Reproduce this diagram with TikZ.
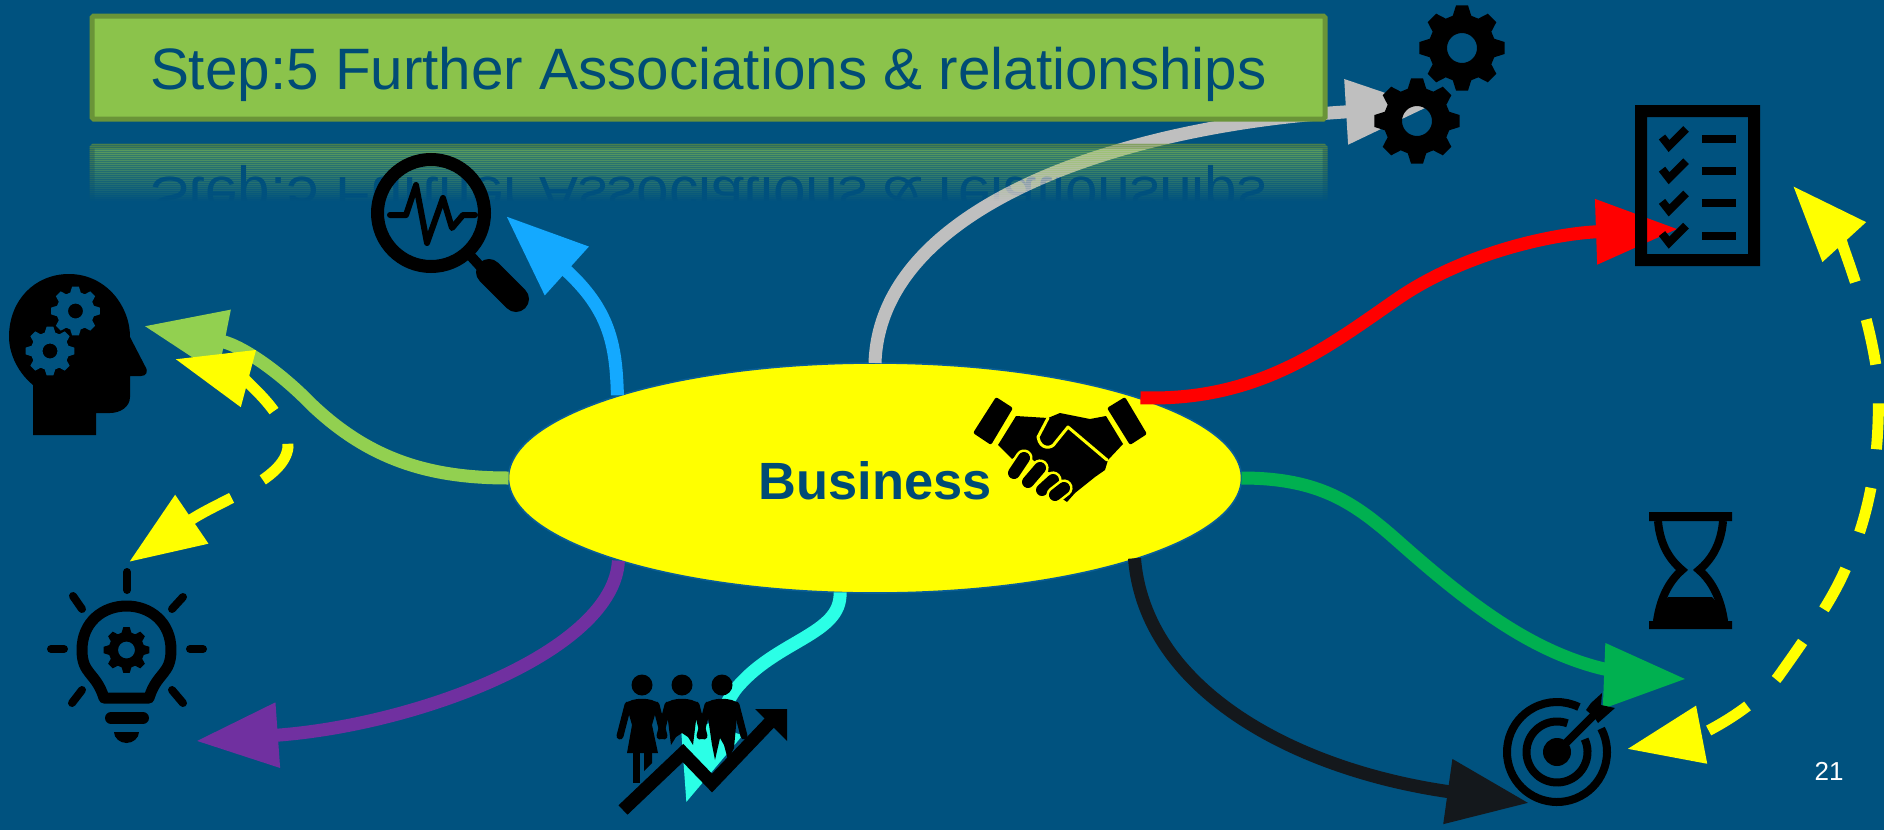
\documentclass[tikz,border=0pt]{standalone}
\usepackage{fontspec}
\setmainfont{Liberation Sans}
\usetikzlibrary{arrows.meta,shapes.geometric}
\definecolor{bgblue}{HTML}{00527F}
\definecolor{titlefill}{HTML}{8BC34B}
\definecolor{titleedge}{HTML}{6A9438}
\definecolor{inkblue}{HTML}{004B75}
\definecolor{skyarrow}{HTML}{14A9FF}
\definecolor{leafarrow}{HTML}{92D050}
\definecolor{plumarrow}{HTML}{7030A0}
\definecolor{aquaarrow}{HTML}{2BFFE6}
\definecolor{sharparrow}{HTML}{14181C}
\definecolor{grassarrow}{HTML}{00B050}
\definecolor{ashArrow}{HTML}{BFBFBF}
\definecolor{pureyellow}{RGB}{255,255,0}
\definecolor{purered}{RGB}{255,0,0}
\definecolor{ellipseedge}{HTML}{0A5E96}
\newcommand{\cog}[5]{\fill[#5,even odd rule,shift={(#1,#2)}] (-8:#3) \foreach \t in {0,45,...,315}{ -- (\t-8:#3) -- (\t+8:#3) -- (\t+16:.78*#3) -- (\t+29:.78*#3)} -- cycle (0,0) circle[radius=#4];}
\tikzset{
  conn/.style={line width=6.5pt},
  bigtip/.style={-{Triangle[length=41pt,width=31pt]}},
  dashtip/.style={{Triangle[length=38pt,width=28pt]}-{Triangle[length=38pt,width=28pt]}},
  titlebox/.style={fill=titlefill,draw=titleedge,line width=2.5pt,rounded corners=0.8pt},
  titletext/.style={anchor=base west,inner sep=0pt,outer sep=0pt,text=inkblue,font=\fontsize{29.2}{34}\selectfont},
  capsule/.style={line cap=round,line width=6pt,black},
  halo/.style={line cap=round,line width=8.6pt,pureyellow},
  ray/.style={line cap=round,line width=4pt,black},
}
\begin{document}
\begin{tikzpicture}[x=0.5pt,y=-0.5pt]
\useasboundingbox (0,0) rectangle (1884,830);
\fill[bgblue] (0,0) rectangle (1884,830);

% central ellipse
\node[ellipse,fill=pureyellow,draw=ellipseedge,line width=0.8pt,minimum width=366.5pt,minimum height=115pt,inner sep=0pt,outer sep=0pt] (biz) at (875,478) {};
\node[anchor=base,inner sep=0pt,text=inkblue,font=\fontsize{26.2}{30}\selectfont\bfseries] (bizlabel) at (875,499) {Business};

% named free ends
\coordinate (tipGray) at (1428,107);
\coordinate (tipBlue) at (506,216);
\coordinate (tipLeaf) at (144,326);
\coordinate (tipPlum) at (196,741);
\coordinate (tipAqua) at (686,803);
\coordinate (tipDark) at (1529,803);
\coordinate (tipGrass) at (1686,679);
\coordinate (tipRed) at (1678,229);
\coordinate (yA) at (175,359);
\coordinate (yB) at (129,562);
\coordinate (yC) at (1793,186);
\coordinate (yD) at (1627,749);

% connectors
\draw[conn,ashArrow,bigtip] (biz.90) .. controls (880,205) and (1125,125) .. (tipGray);
\draw[conn,skyarrow,bigtip] ([xshift=-1.5pt]biz.162) .. controls (616,345) and (610,310) .. (tipBlue);
\draw[conn,leafarrow,bigtip] (biz.180) .. controls (430,478) and (370,460) .. (312,405) .. controls (278,370) and (240,345) .. (tipLeaf);
\draw[conn,plumarrow,bigtip] ([xshift=-1pt]biz.198) .. controls (614,650) and (420,725) .. (tipPlum);
\draw[conn,aquaarrow,bigtip] (biz.253) .. controls (842,635) and (775,640) .. (735,690) .. controls (715,720) and (700,760) .. (tipAqua);
\draw[conn,sharparrow,bigtip] ([xshift=-1.5pt]biz.343) .. controls (1145,690) and (1295,770) .. (tipDark);
\draw[conn,grassarrow,bigtip] (biz.0) .. controls (1320,478) and (1355,503) .. (1400,543) .. controls (1470,605) and (1530,650) .. (1600,668) .. controls (1630,675) and (1660,678) .. (tipGrass);
\draw[conn,purered,bigtip] ([xshift=1.5pt]biz.17) .. controls (1260,402) and (1330,345) .. (1400,297) .. controls (1470,250) and (1560,233) .. (tipRed);
\draw[line width=5.5pt,pureyellow,dashtip,dash pattern=on 23pt off 18pt] (yA) .. controls (235,375) and (288,410) .. (288,447) .. controls (285,480) and (220,500) .. (yB);
\draw[line width=5.5pt,pureyellow,dashtip,dash pattern=on 23pt off 19.5pt] (yC) .. controls (1835,232) and (1868,300) .. (1878,380) .. controls (1880,440) and (1875,500) .. (1848,563) .. controls (1835,595) and (1815,625) .. (1778,677) .. controls (1750,712) and (1700,735) .. (yD);

% reflection of the title: fading strips laid over the connectors
\foreach \i in {0,...,30}{
  \pgfmathsetmacro{\op}{max(0,0.47*(1-\i/30))}
  \begin{scope}[transparency group,opacity=\op]
    \clip (80,140+2*\i) rectangle (1340,142+2*\i);
    \draw[titlebox] (92,146) rectangle (1325,250);
    \node[titletext,yscale=-1,transform shape] at (150,177) {Step:5 Further Associations \& relationships};
  \end{scope}
}

% title
\draw[titlebox] (92,16) rectangle (1325,119);
\node[titletext] (title) at (150,89) {Step:5 Further Associations \& relationships};

% gears
\cog{1462}{48}{43}{15}{black}
\cog{1417}{121}{43}{15}{black}

% checklist
\fill[black,even odd rule] (1635,105) rectangle (1760,266) (1647,117) rectangle (1748,254);
\foreach \d in {0,32.2,64.4,96.6}{
  \fill[black] (1701.5,135+\d) rectangle (1736,143+\d);
  \draw[black,line width=4pt] (1662,137+\d) -- (1669,146+\d) -- (1686,129+\d);
}

% hourglass
\fill[black] (1649,512) rectangle (1732,521) (1649,621) rectangle (1732,629);
\draw[black,line width=4pt] (1658,521) .. controls (1660,545) and (1670,560) .. (1682,570) .. controls (1668,582) and (1660,600) .. (1657,621);
\draw[black,line width=4pt] (1723,521) .. controls (1721,545) and (1711,560) .. (1699,570) .. controls (1713,582) and (1721,600) .. (1724,621);
\fill[black] (1668,597) -- (1712,597) .. controls (1720,606) and (1726,614) .. (1728,621) -- (1653,621) .. controls (1655,614) and (1661,606) .. (1668,597) -- cycle;

% target
\coordinate (bull) at (1557,752);
\draw[black,line width=4pt] (bull) ++(-28:50) arc[start angle=-28,end angle=296,radius=50];
\draw[black,line width=4pt] (bull) ++(-25:30.5) arc[start angle=-25,end angle=290,radius=30.5];
\fill[black] (bull) circle[radius=14];
\draw[black,line width=4pt] (bull) -- (1597,712);
\fill[black] (1602,693) -- (1601,705) -- (1615,708) -- (1598,723) -- (1594,717) -- (1586,710) -- (1591,703) -- cycle;

% magnifier
\draw[black,line width=6.5pt] (431,213) circle[radius=53.5];
\draw[black,line width=3pt,line join=round,line cap=round] (390,215) -- (406,215) -- (416,185) -- (427,243) -- (443,198) -- (452,228) -- (463,215) -- (475,215);
\draw[black,line width=5pt] (468,253) -- (490,277);
\draw[black,line width=13pt,line cap=round] (489,272) -- (516,299);

% head
\fill[black] (33,435) -- (33,385) .. controls (15,370) and (9,350) .. (9,337) .. controls (9,300) and (35,274) .. (69,274) .. controls (105,274) and (130,305) .. (130,337) -- (145,366) .. controls (149,372) and (146,376) .. (141,376) -- (130,376) -- (130,397) .. controls (130,407) and (120,413) .. (110,413) -- (96,413) -- (96,435) -- cycle;
\cog{75.5}{311}{24.5}{7.5}{bgblue}
\cog{50}{351}{24.5}{7.5}{bgblue}

% bulb
\draw[black,line width=5.5pt,line join=round] (104,698) .. controls (96,672) and (82,675) .. (82,650) .. controls (82,622) and (103,606) .. (126.5,606) .. controls (150,606) and (171,622) .. (171,650) .. controls (171,675) and (157,672) .. (149,698) -- cycle;
\cog{126.5}{650}{23}{8.5}{black}
\draw[black,line width=6pt,line cap=round] (111,718) -- (143,718);
\fill[black] (114,732) -- (139,732) .. controls (139,738) and (133,743) .. (126.5,743) .. controls (120,743) and (114,738) .. (114,732) -- cycle;
\draw[ray] (127,572) -- (127,590);
\draw[ray] (51,649) -- (64,649);
\draw[ray] (190,649) -- (203,649);
\draw[ray] (73,596) -- (82,609);
\draw[ray] (183,597) -- (172,609);
\draw[ray] (82,690) -- (72,703);
\draw[ray] (172,690) -- (183,703);

% people
\foreach \px in {642,682,722}{
  \fill[black] (\px,685) circle[radius=10.5];
  \draw[black,line width=3.5pt,line cap=round,line join=round] (\px-14,705) -- (\px-22,736);
  \draw[black,line width=3.5pt,line cap=round,line join=round] (\px+14,705) -- (\px+22,736);
}
\fill[black] (626,704) .. controls (630,697) and (654,697) .. (658,704) -- (652,725) -- (658,753) -- (627,753) -- (632,725) -- cycle;
\fill[black] (633,753) rectangle (640,783);
\fill[black] (644,753) -- (652,753) -- (652,763) -- (644,771) -- cycle;
\fill[black] (666,704) .. controls (670,697) and (694,697) .. (698,704) -- (693,745) -- (688,737) -- (682,733) -- (676,737) -- (671,745) -- cycle;
\fill[black] (706,704) .. controls (710,697) and (734,697) .. (738,704) -- (734,748) -- (728,760) -- (724,745) -- (720,738) -- (715,760) -- (712,745) -- cycle;

% rising arrow
\draw[black,line width=6.5pt,miter limit=10] (623,810) -- (683,753) -- (712,783) -- (776,716);
\fill[black] (755,709) -- (787,709) -- (787,741) -- cycle;

% handshake
\fill[black,rounded corners=1pt] (996,397) -- (1013,408) -- (991,445) -- (973,433) -- cycle;
\fill[black,rounded corners=1pt] (1125,397) -- (1107,408) -- (1130,445) -- (1147,434) -- cycle;
\fill[black] (1016,416) -- (1048,418) -- (1060,413) -- (1090,419) -- (1106,416) -- (1123,444) -- (1108,460) -- (1105,470) -- (1095,477) -- (1085,485) -- (1075,493) -- (1067,502) -- (1061,498) -- (1065,487) -- (1050,473) -- (1033,460) -- (1022,452) -- (1012,459) -- (998,445) -- cycle;
\draw[pureyellow,line width=1.5pt,line join=round,line cap=round] (1048,418) -- (1038,437) .. controls (1040,450) and (1052,449) .. (1055,443) -- (1068,427) -- (1107,460);
\foreach \ax/\ay/\bx/\by in {1024/458/1014/473,1040/468/1028/482,1053/480/1042/490,1064/488/1055/495}{
  \draw[halo] (\ax,\ay) -- (\bx,\by);
  \draw[capsule] (\ax,\ay) -- (\bx,\by);
}

% page number
\node[anchor=base,inner sep=0pt,text=white,font=\fontsize{13}{16}\selectfont] (pageno) at (1829,780) {21};
\end{tikzpicture}
\end{document}
